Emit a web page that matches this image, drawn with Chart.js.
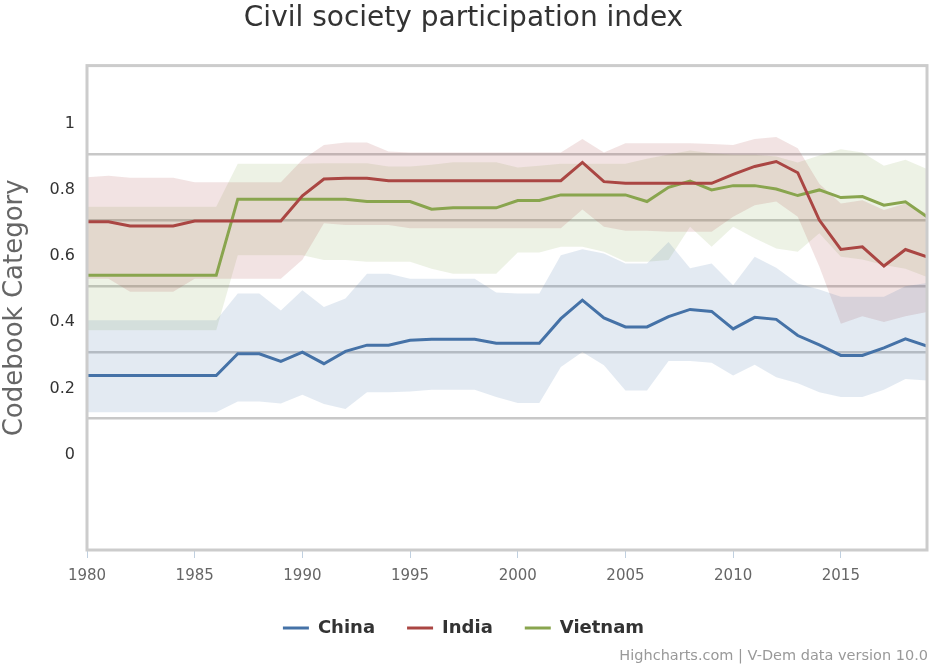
<!DOCTYPE html>
<html>
<head>
<meta charset="utf-8">
<script src="https://cdn.jsdelivr.net/npm/chart.js@4.4.1/dist/chart.umd.min.js"></script>
<style>
  html, body { margin: 0; padding: 0; background: #fff; }
  #wrap { position: relative; width: 929px; height: 666px; }
  #credits {
    position: absolute; right: 1px; bottom: 3px;
    font: 14.5px "DejaVu Sans", sans-serif; color: #999;
  }
</style>
</head>
<body>
<div id="wrap">
  <canvas id="chart" width="929" height="666"></canvas>
  <div id="credits">Highcharts.com | V-Dem data version 10.0</div>
</div>
<script>
const years = [];
for (let y = 1980; y <= 2019; y++) years.push(y);

const xTicks = [1980, 1985, 1990, 1995, 2000, 2005, 2010, 2015];
const yTicks = [0, 0.1, 0.2, 0.3, 0.4, 0.5, 0.6, 0.7, 0.8, 0.9, 1];

// China
const chinaMean = [0.230, 0.230, 0.230, 0.230, 0.230, 0.230, 0.230,
  0.296, 0.296, 0.273, 0.301, 0.266, 0.303, 0.322, 0.322, 0.337, 0.340, 0.340, 0.340,
  0.328, 0.328, 0.328, 0.402, 0.458, 0.404, 0.377, 0.377, 0.408, 0.430, 0.424, 0.371,
  0.406, 0.400, 0.351, 0.323, 0.291, 0.291, 0.314, 0.341, 0.319];
const chinaHigh = [0.397, 0.397, 0.397, 0.397, 0.397, 0.397, 0.397,
  0.478, 0.478, 0.427, 0.488, 0.437, 0.463, 0.538, 0.538, 0.523, 0.523, 0.523, 0.523,
  0.481, 0.478, 0.478, 0.594, 0.612, 0.599, 0.569, 0.569, 0.634, 0.554, 0.569, 0.503,
  0.589, 0.556, 0.508, 0.490, 0.468, 0.468, 0.468, 0.500, 0.510];
const chinaLow = [0.119, 0.119, 0.119, 0.119, 0.119, 0.119, 0.119,
  0.152, 0.152, 0.146, 0.172, 0.144, 0.129, 0.180, 0.180, 0.182, 0.187, 0.187, 0.187,
  0.165, 0.147, 0.147, 0.256, 0.301, 0.261, 0.185, 0.185, 0.274, 0.274, 0.269, 0.230,
  0.263, 0.225, 0.207, 0.180, 0.165, 0.165, 0.187, 0.220, 0.215];

// India
const indiaMean = [0.695, 0.695, 0.682, 0.682, 0.682, 0.697, 0.697, 0.697, 0.697, 0.697,
  0.773, 0.824, 0.826, 0.826, 0.819, 0.819, 0.819, 0.819, 0.819, 0.819, 0.819, 0.819, 0.819,
  0.874, 0.816, 0.811, 0.811, 0.811, 0.811, 0.811, 0.838, 0.862, 0.877, 0.843,
  0.700, 0.611, 0.619, 0.561, 0.611, 0.589];
const indiaHigh = [0.829, 0.834, 0.828, 0.828, 0.828, 0.814, 0.814, 0.814, 0.814, 0.814,
  0.882, 0.927, 0.934, 0.934, 0.907, 0.904, 0.904, 0.904, 0.904, 0.904, 0.904, 0.904, 0.904,
  0.945, 0.904, 0.932, 0.932, 0.932, 0.932, 0.930, 0.927, 0.945, 0.951, 0.917,
  0.810, 0.750, 0.760, 0.730, 0.750, 0.720];
const indiaLow = [0.523, 0.523, 0.483, 0.483, 0.483, 0.523, 0.523, 0.523, 0.523, 0.523,
  0.580, 0.690, 0.685, 0.685, 0.685, 0.675, 0.675, 0.675, 0.675, 0.675, 0.675, 0.675, 0.675,
  0.732, 0.680, 0.668, 0.668, 0.665, 0.665, 0.665, 0.710, 0.745, 0.756, 0.710,
  0.560, 0.387, 0.409, 0.392, 0.409, 0.422];

// Vietnam
const vietnamMean = [0.533, 0.533, 0.533, 0.533, 0.533, 0.533, 0.533,
  0.763, 0.763, 0.763, 0.763, 0.763, 0.763, 0.756, 0.756, 0.756, 0.733, 0.737, 0.737,
  0.737, 0.759, 0.759, 0.776, 0.776, 0.776, 0.776, 0.756, 0.799, 0.818, 0.791, 0.804,
  0.804, 0.794, 0.774, 0.791, 0.768, 0.771, 0.745, 0.755, 0.710];
const vietnamHigh = [0.740, 0.740, 0.740, 0.740, 0.740, 0.740, 0.740,
  0.870, 0.870, 0.870, 0.870, 0.872, 0.872, 0.872, 0.862, 0.862, 0.867, 0.875, 0.875,
  0.875, 0.859, 0.864, 0.870, 0.870, 0.870, 0.870, 0.885, 0.898, 0.910, 0.902, 0.897,
  0.897, 0.892, 0.874, 0.895, 0.914, 0.904, 0.864, 0.882, 0.854];
const vietnamLow = [0.367, 0.367, 0.367, 0.367, 0.367, 0.367, 0.367,
  0.594, 0.594, 0.594, 0.594, 0.579, 0.579, 0.574, 0.574, 0.574, 0.553, 0.538, 0.538,
  0.538, 0.602, 0.602, 0.619, 0.619, 0.604, 0.574, 0.574, 0.579, 0.680, 0.619, 0.680,
  0.645, 0.614, 0.604, 0.660, 0.589, 0.581, 0.564, 0.553, 0.528];

const FONT = "'DejaVu Sans', sans-serif";

function pts(values) {
  return values.map((v, i) => ({ x: years[i], y: v }));
}

function lineSet(label, values, color) {
  return {
    label: label,
    data: pts(values),
    borderColor: color,
    backgroundColor: color,
    borderWidth: 3,
    pointRadius: 0,
    tension: 0,
    fill: false,
    order: 0,
  };
}

function bandSet(label, values, fillColor, target) {
  return {
    label: label,
    data: pts(values),
    borderWidth: 0,
    borderColor: "rgba(0,0,0,0)",
    backgroundColor: fillColor,
    pointRadius: 0,
    tension: 0,
    fill: target === null ? false : { target: target },
    order: 1,
    isBand: true,
  };
}

const datasets = [
  lineSet("China", chinaMean, "#4572A7"),
  lineSet("India", indiaMean, "#AA4643"),
  lineSet("Vietnam", vietnamMean, "#89A54E"),
  bandSet("China high", chinaHigh, "rgba(69,114,167,0.15)", 4),
  bandSet("China low", chinaLow, "rgba(69,114,167,0.15)", null),
  bandSet("India high", indiaHigh, "rgba(170,70,67,0.15)", 6),
  bandSet("India low", indiaLow, "rgba(170,70,67,0.15)", null),
  bandSet("Vietnam high", vietnamHigh, "rgba(137,165,78,0.15)", 8),
  bandSet("Vietnam low", vietnamLow, "rgba(137,165,78,0.15)", null),
];

// grey frame round the plot area
const plotBorder = {
  id: "plotBorder",
  afterDraw(chart) {
    const a = chart.chartArea;
    const ctx = chart.ctx;
    ctx.save();
    ctx.strokeStyle = "#cccccc";
    ctx.lineWidth = 3;
    ctx.strokeRect(a.left, a.top, a.right - a.left, a.bottom - a.top);
    ctx.restore();
  },
};

function isOddTenth(v) {
  return Math.round(v * 10) % 2 === 1;
}

new Chart(document.getElementById("chart"), {
  type: "line",
  data: { datasets: datasets },
  plugins: [plotBorder],
  options: {
    responsive: false,
    animation: false,
    layout: { padding: { top: 0, right: 2, bottom: 19, left: 0 } },
    scales: {
      x: {
        type: "linear",
        min: 1980,
        max: 2019,
        afterBuildTicks: (axis) => {
          axis.ticks = xTicks.map((v) => ({ value: v }));
        },
        afterFit: (axis) => { axis.height = 37; },
        border: { display: false },
        grid: {
          drawOnChartArea: false,
          drawTicks: true,
          tickLength: 8,
          tickColor: "#c0d0e0",
          tickWidth: 1,
        },
        ticks: {
          padding: 9,
          color: "#666666",
          font: { family: FONT, size: 15 },
          callback: (v) => String(v),
        },
      },
      y: {
        min: -0.297,
        max: 1.1667,
        afterBuildTicks: (axis) => {
          axis.ticks = yTicks.map((v) => ({ value: v }));
        },
        afterFit: (axis) => { axis.width = 87; },
        border: { display: false },
        grid: {
          drawTicks: false,
          lineWidth: 2.5,
          color: (ctx) => (ctx.tick && isOddTenth(ctx.tick.value) ? "#c8c8c8" : "rgba(0,0,0,0)"),
        },
        ticks: {
          padding: 12,
          labelOffset: 3,
          color: "#333333",
          font: { family: FONT, size: 16 },
          callback: (v) => (isOddTenth(v) ? "" : String(Math.round(v * 10) / 10)),
        },
        title: {
          display: true,
          text: "Codebook Category",
          color: "#666666",
          font: { family: FONT, size: 26 },
          padding: { top: 0, bottom: 0 },
        },
      },
    },
    plugins: {
      title: {
        display: true,
        text: "Civil society participation index",
        color: "#333333",
        font: { family: FONT, size: 28, weight: "normal" },
        padding: { top: 2, bottom: 30 },
      },
      legend: {
        display: true,
        position: "bottom",
        labels: {
          boxWidth: 26,
          boxHeight: 3,
          padding: 32,
          color: "#333333",
          font: { family: FONT, size: 18, weight: "bold" },
          generateLabels: (chart) =>
            Chart.defaults.plugins.legend.labels.generateLabels(chart)
              .filter((item) => !chart.data.datasets[item.datasetIndex].isBand)
              .map((item) => Object.assign(item, { lineWidth: 0 })),
        },
      },
      tooltip: { enabled: false },
    },
  },
});
</script>
</body>
</html>
